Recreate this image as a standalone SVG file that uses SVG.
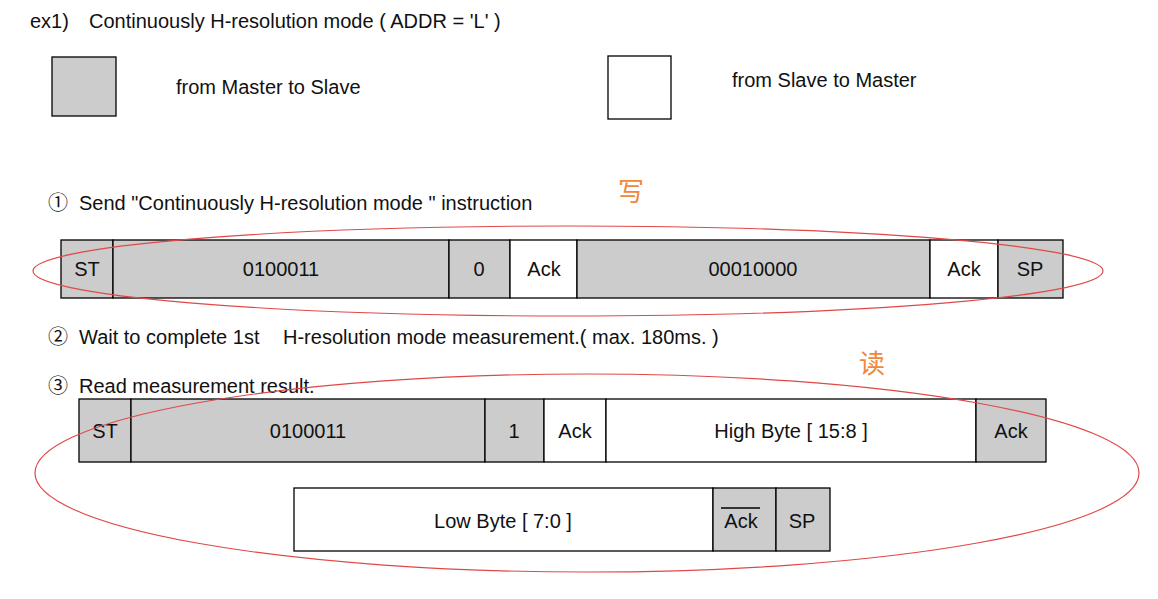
<svg xmlns="http://www.w3.org/2000/svg" width="1158" height="599" viewBox="0 0 1158 599">
<style>
text{font-family:"Liberation Sans","Noto Sans CJK SC",sans-serif;font-size:20px;fill:#111}
.g{fill:#cccccc;stroke:#000;stroke-width:1.3}
.w{fill:#ffffff;stroke:#000;stroke-width:1.3}
.c{text-anchor:middle}
.cn{font-size:26px;fill:#f0883c}
.oval{fill:none;stroke:#e04848;stroke-width:1.2}
</style>
<rect width="1158" height="599" fill="#fff"/>
<text x="30" y="28">ex1)</text>
<text x="89" y="28">Continuously H-resolution mode ( ADDR = 'L' )</text>
<g id="legend-master"><rect class="g" x="52" y="57" width="64" height="59"/><text x="176" y="94">from Master to Slave</text></g>
<g id="legend-slave"><rect class="w" x="608" y="56" width="63" height="63"/><text x="732" y="87">from Slave to Master</text></g>
<text x="48" y="210">①</text><text x="79" y="210">Send "Continuously H-resolution mode " instruction</text>
<text class="cn" x="618" y="201">写</text>
<g id="row1">
<rect class="g" x="61" y="240" width="52" height="58"/><text class="c" x="87" y="276">ST</text>
<rect class="g" x="113" y="240" width="336" height="58"/><text class="c" x="281" y="276">0100011</text>
<rect class="g" x="449" y="240" width="61" height="58"/><text class="c" x="479" y="276">0</text>
<rect class="w" x="510" y="240" width="67" height="58"/><text class="c" x="544" y="276">Ack</text>
<rect class="g" x="577" y="240" width="353" height="58"/><text class="c" x="753" y="276">00010000</text>
<rect class="w" x="930" y="240" width="68" height="58"/><text class="c" x="964" y="276">Ack</text>
<rect class="g" x="998" y="240" width="65" height="58"/><text class="c" x="1030" y="276">SP</text>
</g>
<text x="48" y="344">②</text><text x="79" y="344">Wait to complete 1st</text><text x="283" y="344">H-resolution mode measurement.( max. 180ms. )</text>
<text x="48" y="393">③</text><text x="79" y="393">Read measurement result.</text>
<text class="cn" x="859" y="373">读</text>
<g id="row2">
<rect class="g" x="79" y="399" width="52" height="63"/><text class="c" x="105" y="438">ST</text>
<rect class="g" x="131" y="399" width="354" height="63"/><text class="c" x="308" y="438">0100011</text>
<rect class="g" x="485" y="399" width="59" height="63"/><text class="c" x="514" y="438">1</text>
<rect class="w" x="544" y="399" width="62" height="63"/><text class="c" x="575" y="438">Ack</text>
<rect class="w" x="606" y="399" width="370" height="63"/><text class="c" x="791" y="438">High Byte [ 15:8 ]</text>
<rect class="g" x="976" y="399" width="70" height="63"/><text class="c" x="1011" y="438">Ack</text>
</g>
<g id="row3">
<rect class="w" x="294" y="488" width="419" height="63"/><text class="c" x="503" y="528">Low Byte [ 7:0 ]</text>
<rect class="g" x="713" y="488" width="63" height="63"/><text class="c" x="741" y="528">Ack</text>
<line x1="721" y1="508" x2="760" y2="508" stroke="#000" stroke-width="1.6"/>
<rect class="g" x="776" y="488" width="54" height="63"/><text class="c" x="802" y="528">SP</text>
</g>
<g id="connectors">
<ellipse class="oval" cx="568" cy="271" rx="535" ry="45"/>
<ellipse class="oval" cx="587" cy="473" rx="552" ry="99"/>
</g>
</svg>
